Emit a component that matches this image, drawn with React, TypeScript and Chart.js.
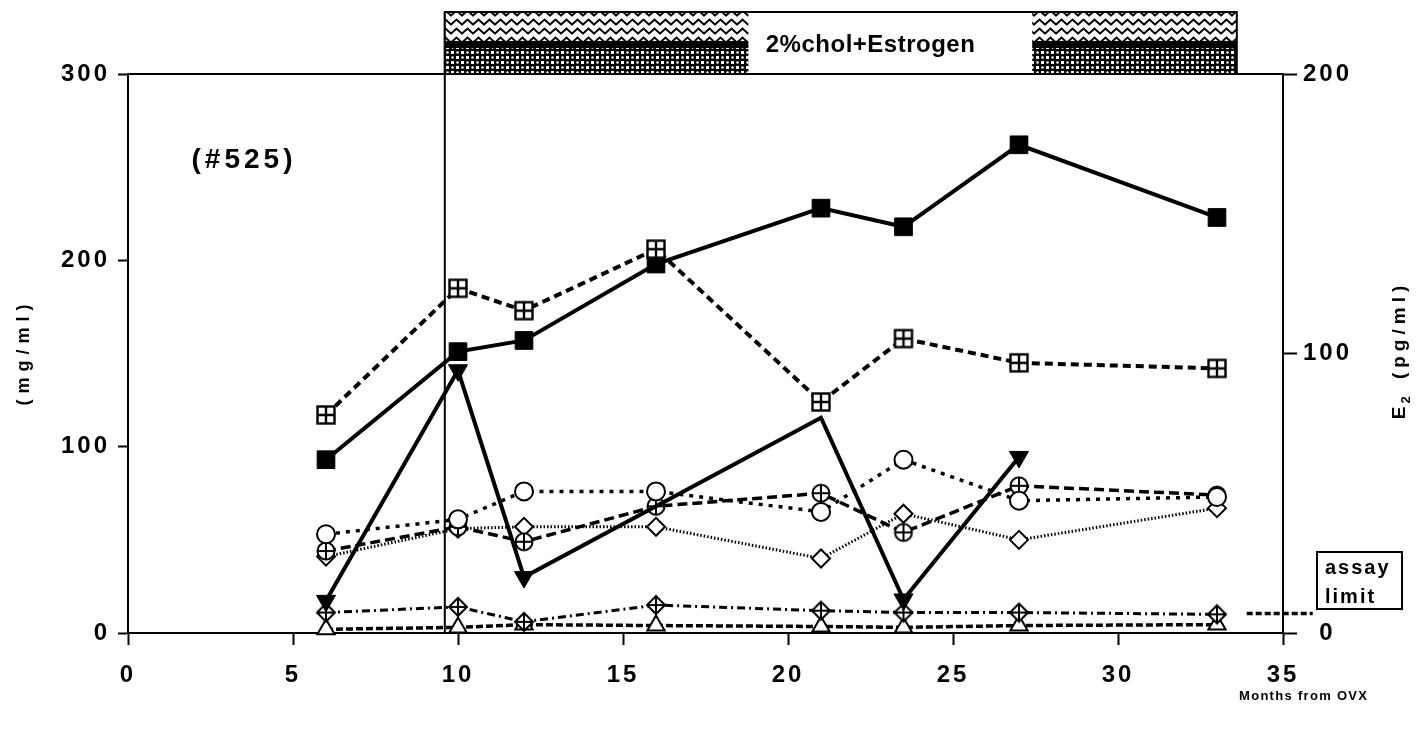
import React, { useEffect, useRef } from "react";
import { Chart, registerables } from "chart.js";

Chart.register(...registerables);

// ---------- data ----------
const months = [6, 10, 12, 16, 21, 23.5, 27, 33];
const filledSquareValues = [93, 151, 157, 198, 228, 218, 262, 223];
const gridSquareValues = [117, 185, 173, 206, 124, 158, 145, 142];
const openCircleValues = [53, 61, 76, 76, 65, 93, 71, 73];
const crossedCircleValues = [44, 57, 49, 68, 75, 54, 79, 74];
const diamondValues = [41, 56, 57, 57, 40, 64, 50, 67];
const crossedDiamondValues = [11, 14, 6, 15, 12, 11, 11, 10];
const openTriangleValues = [2, 3, 4.5, 4, 3.5, 3, 4, 4.5];
const e2Months = [6, 10, 12, 21, 23.5, 27];
const e2Values = [11.5, 94, 20, 77, 12, 63];
const e2MarkerShown = [true, true, true, false, true, true];
const assayLimitMonths = [33.9, 35.9];
const assayLimitValue = 7;
const treatmentStart = 9.6;
const treatmentEnd = 33.6;
const treatmentLabelFrom = 18.8;
const treatmentLabelTo = 27.4;
const xTickValues = [0, 5, 10, 15, 20, 25, 30, 35];
const leftTickValues = [0, 100, 200, 300];
const rightTickValues = [0, 100, 200];
const treatmentLabel = "2%chol+Estrogen";
const animalLabel = "(#525)";
const xTitle = "Months from OVX";
const leftTitle = "(mg/ml)";
const rightTitleMain = "E";
const rightTitleSub = "2";
const rightTitleRest = " (pg/ml)";
const assayLines = ["assay", "limit"];

const FONT = '"Liberation Sans", Arial, Helvetica, sans-serif';

const pts = (xs: number[], ys: number[]) => xs.map((x, i) => ({ x, y: ys[i] }));

function makeCanvas(w: number, h: number, draw: (g: CanvasRenderingContext2D) => void) {
  const c = document.createElement("canvas");
  c.width = w;
  c.height = h;
  const g = c.getContext("2d")!;
  draw(g);
  return c;
}

function gridSquareMarker() {
  return makeCanvas(22, 22, (g) => {
    g.fillStyle = "#fff";
    g.fillRect(2.5, 2.5, 17, 17);
    g.strokeStyle = "#000";
    g.lineWidth = 2.4;
    g.strokeRect(2.5, 2.5, 17, 17);
    g.beginPath();
    g.moveTo(11, 2.5);
    g.lineTo(11, 19.5);
    g.moveTo(2.5, 11);
    g.lineTo(19.5, 11);
    g.stroke();
  });
}

function crossedCircleMarker() {
  return makeCanvas(22, 22, (g) => {
    g.fillStyle = "#fff";
    g.strokeStyle = "#000";
    g.lineWidth = 2;
    g.beginPath();
    g.arc(11, 11, 8.5, 0, Math.PI * 2);
    g.fill();
    g.stroke();
    g.beginPath();
    g.moveTo(11, 2.5);
    g.lineTo(11, 19.5);
    g.moveTo(2.5, 11);
    g.lineTo(19.5, 11);
    g.stroke();
  });
}

function crossedDiamondMarker() {
  return makeCanvas(22, 22, (g) => {
    g.fillStyle = "#fff";
    g.strokeStyle = "#000";
    g.lineWidth = 2;
    g.beginPath();
    g.moveTo(11, 2);
    g.lineTo(20, 11);
    g.lineTo(11, 20);
    g.lineTo(2, 11);
    g.closePath();
    g.fill();
    g.stroke();
    g.beginPath();
    g.moveTo(11, 2);
    g.lineTo(11, 20);
    g.moveTo(2, 11);
    g.lineTo(20, 11);
    g.stroke();
  });
}

function zigzagPattern(ctx: CanvasRenderingContext2D) {
  const tile = makeCanvas(11, 9, (g) => {
    g.fillStyle = "#fff";
    g.fillRect(0, 0, 11, 9);
    g.strokeStyle = "#000";
    g.lineWidth = 2;
    g.beginPath();
    g.moveTo(-0.5, 7);
    g.lineTo(5.5, 1.5);
    g.lineTo(11.5, 7);
    g.stroke();
  });
  return ctx.createPattern(tile, "repeat")!;
}

function checkerPattern(ctx: CanvasRenderingContext2D) {
  const tile = makeCanvas(10, 10, (g) => {
    g.fillStyle = "#000";
    g.fillRect(0, 0, 10, 10);
    g.fillStyle = "#fff";
    g.fillRect(1, 1, 3, 3);
    g.fillRect(6, 6, 3, 3);
    g.beginPath();
    g.arc(7.5, 2.5, 1.3, 0, Math.PI * 2);
    g.fill();
    g.beginPath();
    g.arc(2.5, 7.5, 1.3, 0, Math.PI * 2);
    g.fill();
  });
  return ctx.createPattern(tile, "repeat")!;
}

function spacedText(
  ctx: CanvasRenderingContext2D,
  text: string,
  x: number,
  y: number,
  font: string,
  spacing: number,
  align: CanvasTextAlign = "center",
  baseline: CanvasTextBaseline = "middle"
) {
  ctx.font = font;
  (ctx as any).letterSpacing = spacing + "px";
  ctx.textAlign = align;
  ctx.textBaseline = baseline;
  ctx.fillText(text, align === "center" ? x + spacing / 2 : x, y);
}

const decorPlugin = {
  id: "decor",
  beforeLayout(chart: any) {
    chart.ctx.letterSpacing = "3px";
  },
  beforeDraw(chart: any) {
    chart.ctx.letterSpacing = "3px";
  },
  afterDraw(chart: any) {
    const { ctx, chartArea, scales } = chart;
    const xs = scales.x;
    ctx.save();
    ctx.setLineDash([]);
    ctx.strokeStyle = "#000";
    ctx.fillStyle = "#000";

    // top frame line
    ctx.lineWidth = 2;
    ctx.beginPath();
    ctx.moveTo(chartArea.left, chartArea.top);
    ctx.lineTo(chartArea.right, chartArea.top);
    ctx.stroke();

    // treatment bar
    const bx1 = xs.getPixelForValue(treatmentStart);
    const bx2 = xs.getPixelForValue(treatmentEnd);
    const by1 = 12;
    const by2 = chartArea.top;
    ctx.fillStyle = zigzagPattern(ctx);
    ctx.fillRect(bx1, by1, bx2 - bx1, 29);
    ctx.fillStyle = "#000";
    ctx.fillRect(bx1, by1 + 29, bx2 - bx1, 7);
    ctx.fillStyle = checkerPattern(ctx);
    ctx.fillRect(bx1, by1 + 36, bx2 - bx1, by2 - by1 - 36);
    const lx1 = xs.getPixelForValue(treatmentLabelFrom);
    const lx2 = xs.getPixelForValue(treatmentLabelTo);
    ctx.fillStyle = "#fff";
    ctx.fillRect(lx1, by1 + 1, lx2 - lx1, by2 - by1 - 1);
    ctx.strokeStyle = "#000";
    ctx.lineWidth = 2;
    ctx.strokeRect(bx1, by1, bx2 - bx1, by2 - by1);
    ctx.fillStyle = "#000";
    spacedText(ctx, treatmentLabel, (lx1 + lx2) / 2 - 20, 45, `bold 24px ${FONT}`, 0.5);

    // animal id
    spacedText(ctx, animalLabel, 242, 160, `bold 28px ${FONT}`, 4);

    // x title
    spacedText(ctx, xTitle, 1303, 696, `bold 13px ${FONT}`, 1.3);

    // assay limit box
    ctx.lineWidth = 2;
    ctx.strokeRect(1317, 552, 85, 57);
    spacedText(ctx, assayLines[0], 1325, 574, `bold 20px ${FONT}`, 2, "left", "alphabetic");
    spacedText(ctx, assayLines[1], 1325, 603, `bold 20px ${FONT}`, 2, "left", "alphabetic");

    // left title (rotated)
    ctx.save();
    ctx.translate(24, 355);
    ctx.rotate(-Math.PI / 2);
    spacedText(ctx, leftTitle, 0, 0, `bold 18px ${FONT}`, 6);
    ctx.restore();

    // right title (rotated, with subscript)
    ctx.save();
    ctx.translate(1398, 350);
    ctx.rotate(-Math.PI / 2);
    const mainFont = `bold 19px ${FONT}`;
    const subFont = `bold 13px ${FONT}`;
    const sp = 5;
    (ctx as any).letterSpacing = sp + "px";
    ctx.font = mainFont;
    const wE = ctx.measureText(rightTitleMain).width;
    const wRest = ctx.measureText(rightTitleRest).width;
    ctx.font = subFont;
    const wSub = ctx.measureText(rightTitleSub).width;
    const total = wE + wSub + wRest;
    let cx = -total / 2;
    ctx.textAlign = "left";
    ctx.textBaseline = "alphabetic";
    ctx.font = mainFont;
    ctx.fillText(rightTitleMain, cx, 7);
    cx += wE;
    ctx.font = subFont;
    ctx.fillText(rightTitleSub, cx - 2, 12);
    cx += wSub;
    ctx.font = mainFont;
    ctx.fillText(rightTitleRest, cx, 7);
    ctx.restore();

    ctx.restore();
  },
};

export default function App() {
  const ref = useRef<HTMLCanvasElement>(null);

  useEffect(() => {
    const canvas = ref.current!;
    const gridSq = gridSquareMarker();
    const crossCirc = crossedCircleMarker();
    const crossDiam = crossedDiamondMarker();

    const base = {
      borderColor: "#000",
      pointBorderColor: "#000",
      fill: false,
      tension: 0,
      clip: false,
    };

    const chart = new Chart(canvas, {
      type: "line",
      data: {
        datasets: [
          {
            ...base,
            label: "Series ⊞",
            data: pts(months, gridSquareValues),
            borderWidth: 4,
            borderDash: [8, 5],
            pointStyle: gridSq as any,
          },
          {
            ...base,
            label: "Series ■",
            data: pts(months, filledSquareValues),
            borderWidth: 4,
            pointStyle: "rect",
            pointRadius: 12.5,
            pointBackgroundColor: "#000",
            pointBorderWidth: 1,
          },
          {
            ...base,
            label: "E2",
            yAxisID: "y2",
            data: pts(e2Months, e2Values),
            borderWidth: 4,
            pointStyle: "triangle",
            pointRotation: 180,
            pointRadius: e2MarkerShown.map((s) => (s ? 11 : 0)),
            pointBackgroundColor: "#000",
            pointBorderWidth: 1,
          },
          {
            ...base,
            label: "Series ○",
            data: pts(months, openCircleValues),
            borderWidth: 3.5,
            borderDash: [4, 6],
            pointStyle: "circle",
            pointRadius: 9,
            pointBackgroundColor: "#fff",
            pointBorderWidth: 2,
          },
          {
            ...base,
            label: "Series ⊕",
            data: pts(months, crossedCircleValues),
            borderWidth: 3.5,
            borderDash: [10, 5],
            pointStyle: crossCirc as any,
          },
          {
            ...base,
            label: "Series ◇",
            data: pts(months, diamondValues),
            borderWidth: 3,
            borderDash: [1.5, 2],
            pointStyle: "rectRot",
            pointRadius: 9,
            pointBackgroundColor: "#fff",
            pointBorderWidth: 2,
          },
          {
            ...base,
            label: "Series crossed ◇",
            data: pts(months, crossedDiamondValues),
            borderWidth: 3,
            borderDash: [8, 4, 2, 4],
            pointStyle: crossDiam as any,
          },
          {
            ...base,
            label: "Series △",
            data: pts(months, openTriangleValues),
            borderWidth: 3.5,
            borderDash: [7, 3],
            pointStyle: "triangle",
            pointRadius: 10,
            pointBackgroundColor: "#fff",
            pointBorderWidth: 2,
          },
          {
            ...base,
            label: "assay limit",
            yAxisID: "y2",
            data: pts(assayLimitMonths, [assayLimitValue, assayLimitValue]),
            borderWidth: 3.5,
            borderDash: [6, 3],
            pointRadius: 0,
          },
          {
            ...base,
            label: "treatment start",
            data: pts([treatmentStart, treatmentStart], [0, 333]),
            borderWidth: 2,
            pointRadius: 0,
          },
        ],
      },
      options: {
        responsive: false,
        animation: false,
        devicePixelRatio: 1,
        events: [],
        layout: { padding: { top: 74, left: 0, right: 0, bottom: 0 } },
        plugins: {
          legend: { display: false },
          tooltip: { enabled: false },
          title: { display: false },
        },
        scales: {
          x: {
            type: "linear",
            position: "bottom",
            min: 0,
            max: 35,
            afterBuildTicks: (s: any) => {
              s.ticks = xTickValues.map((v) => ({ value: v }));
            },
            afterFit: (s: any) => {
              s.height = 101;
            },
            grid: {
              drawOnChartArea: false,
              drawTicks: true,
              tickLength: 12,
              tickColor: "#000",
              tickWidth: 2,
              color: "#000",
            },
            border: { display: true, color: "#000", width: 2 },
            ticks: {
              color: "#000",
              padding: 16,
              maxRotation: 0,
              autoSkip: false,
              font: { family: FONT, size: 24, weight: "bold" },
            },
          },
          y: {
            type: "linear",
            position: "left",
            min: 0,
            max: 300,
            afterBuildTicks: (s: any) => {
              s.ticks = leftTickValues.map((v) => ({ value: v }));
            },
            afterFit: (s: any) => {
              s.width = 128;
            },
            grid: {
              drawOnChartArea: false,
              drawTicks: true,
              tickLength: 10,
              tickColor: "#000",
              tickWidth: 2,
              color: "#000",
            },
            border: { display: true, color: "#000", width: 2 },
            ticks: {
              color: "#000",
              padding: 8,
              autoSkip: false,
              font: { family: FONT, size: 24, weight: "bold" },
            },
          },
          y2: {
            type: "linear",
            position: "right",
            min: 0,
            max: 200,
            afterBuildTicks: (s: any) => {
              s.ticks = rightTickValues.map((v) => ({ value: v }));
            },
            afterFit: (s: any) => {
              s.width = 139;
            },
            grid: {
              drawOnChartArea: false,
              drawTicks: true,
              tickLength: 14,
              tickColor: "#000",
              tickWidth: 2,
              color: "#000",
            },
            border: { display: true, color: "#000", width: 2 },
            ticks: {
              color: "#000",
              padding: 6,
              crossAlign: "center",
              autoSkip: false,
              font: { family: FONT, size: 24, weight: "bold" },
            },
          },
        },
      } as any,
      plugins: [decorPlugin as any],
    });

    return () => chart.destroy();
  }, []);

  return (
    <div
      style={{
        position: "fixed",
        left: 0,
        top: 0,
        width: 1422,
        height: 734,
        background: "#fff",
      }}
    >
      <canvas ref={ref} width={1422} height={734} style={{ display: "block", width: 1422, height: 734 }} />
    </div>
  );
}
